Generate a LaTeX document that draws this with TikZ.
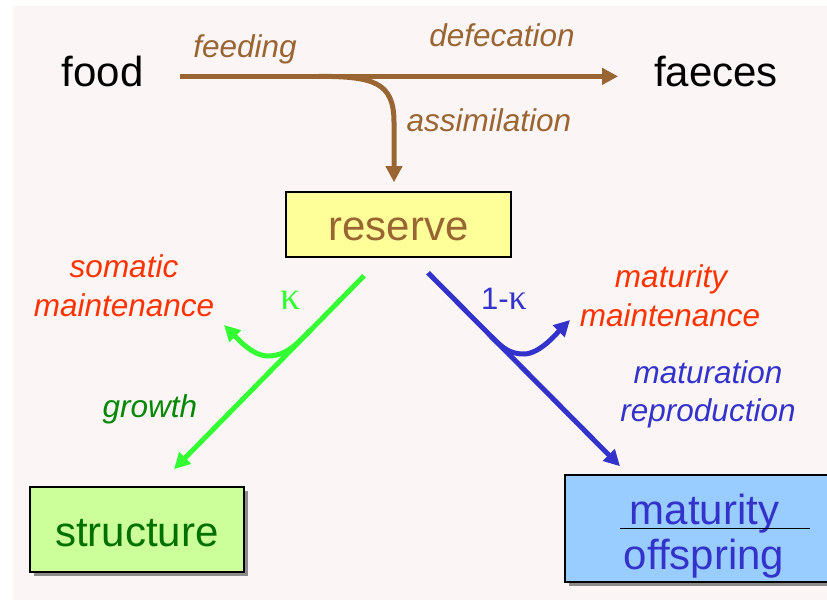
\documentclass[tikz,border=0pt]{standalone}
\usepackage{fontspec}
\setmainfont{Liberation Sans}
\newfontfamily\greekfont{Liberation Serif}
\usepackage{tikz}
\usetikzlibrary{positioning,arrows.meta,shadows}
\usetikzlibrary{calc}

\definecolor{bgpink}{HTML}{FCF5F5}
\definecolor{foodbrown}{HTML}{996633}
\definecolor{maintred}{HTML}{FF3300}
\definecolor{kgreen}{HTML}{33FF33}
\definecolor{growgreen}{HTML}{008800}
\definecolor{structgreen}{HTML}{007000}
\definecolor{kblue}{HTML}{3333CC}
\definecolor{resfill}{HTML}{FFFF99}
\definecolor{structfill}{HTML}{CCFF99}
\definecolor{matfill}{HTML}{99CCFF}

\newcommand{\hugetxt}{\fontsize{42}{48}\selectfont}
\newcommand{\lbltxt}{\fontsize{31.5}{36}\selectfont\itshape}

\begin{document}
\begin{tikzpicture}[
  x=1pt, y=-1pt,
  box/.style={draw=black, line width=1.5pt, inner sep=0pt, text height=33pt, text depth=0pt, font=\hugetxt},
  shadowbox/.style={box, drop shadow={shadow xshift=4pt, shadow yshift=-4pt, fill=black!45, opacity=1}},
  word/.style={font=\hugetxt, anchor=base, inner sep=0pt, outer sep=0pt},
  lbl/.style={font=\lbltxt, anchor=base, inner sep=0pt},
  tip/.style={-{Triangle[length=16pt,width=16pt]}},
  brownflow/.style={tip, line width=5pt, draw=foodbrown},
  greenflow/.style={tip, line width=5pt, draw=kgreen},
  blueflow/.style={tip, line width=5pt, draw=kblue}
]
\useasboundingbox (0,0) rectangle (827,601);
\fill[bgpink] (13,6) rectangle (827,600);

% Food and faeces
\node[word] (food) at (102.5,87) {food};
\node[word] (faeces) at (716,87) {faeces};

% Boxes
\node[box, fill=resfill, text=foodbrown, minimum width=225pt, minimum height=65pt] (reserve) at (398.5,224.5) {reserve};
\node[shadowbox, fill=structfill, text=structgreen, minimum width=214pt, minimum height=85pt] (structure) at (137,529.5) {structure};
\node[shadowbox, fill=matfill, minimum width=278pt, minimum height=107pt] (maturity) at (704,528.5) {};
\node[word, text=kblue] (matword) at (704.5,524) {maturity};
\node[word, text=kblue] (offspring) at (704,569) {offspring};
\draw[line width=1.5pt] ([xshift=-84pt]maturity.center) -- ([xshift=106pt]maturity.center);

% Labels
\node[lbl, text=foodbrown] (feeding) at (245,58) {feeding};
\node[lbl, text=foodbrown] (defecation) at (502,47) {defecation};
\node[lbl, text=foodbrown] (assimilation) at (489,132) {assimilation};
\node[lbl, text=maintred] (somatic) at (124,278) {somatic};
\node[lbl, text=maintred] (somaint) at (124,317) {maintenance};
\node[lbl, text=maintred] (maturity1) at (671,288) {maturity};
\node[lbl, text=maintred] (matmaint) at (670,327) {maintenance};
\node[lbl, text=kblue] (maturation) at (708,384) {maturation};
\node[lbl, text=kblue] (reproduction) at (708,421) {reproduction};
\node[lbl, text=growgreen] (growth) at (150,417) {growth};
\node[anchor=base, inner sep=0pt, text=kgreen, font=\fontsize{40}{44}\selectfont\greekfont] (kappa) at (291,310) {κ};
\node[anchor=base, inner sep=0pt, text=kblue, font=\fontsize{31}{36}\selectfont] (onekappa) at (504,310) {1-{\fontsize{36}{40}\selectfont\greekfont κ}};

% Arrows
\draw[brownflow, shorten <=36.6pt, shorten >=36pt] ([yshift=8pt]food.mid east) -- ([yshift=8pt]faeces.mid west);
\coordinate (split) at ([xshift=175pt,yshift=8pt]food.mid east);
\draw[brownflow] (split) .. controls +(55,0) and +(0,-40) .. (394,122) -- ([xshift=-4.5pt,yshift=9pt]reserve.north);

\draw[greenflow] ([xshift=-34.5pt,yshift=-18pt]reserve.south) -- coordinate[pos=0.28] (ksplit) ([xshift=37pt,yshift=17pt]structure.north);
\draw[blueflow] ([xshift=29.5pt,yshift=-15pt]reserve.south) -- coordinate[pos=0.33] (bsplit) ([xshift=-84pt,yshift=8pt]maturity.north);

\coordinate (somtip) at (224,325);
\coordinate (mattip) at (570,320);
\draw[greenflow] (ksplit) .. controls +(-14,14) and +(18,0) .. (268,356) .. controls +(-16,0) and +(12,12) .. (somtip);
\draw[blueflow] (bsplit) .. controls +(12,12) and +(-14,0) .. (524,354) .. controls +(16,0) and +(-12,12) .. (mattip);

\end{tikzpicture}
\end{document}
